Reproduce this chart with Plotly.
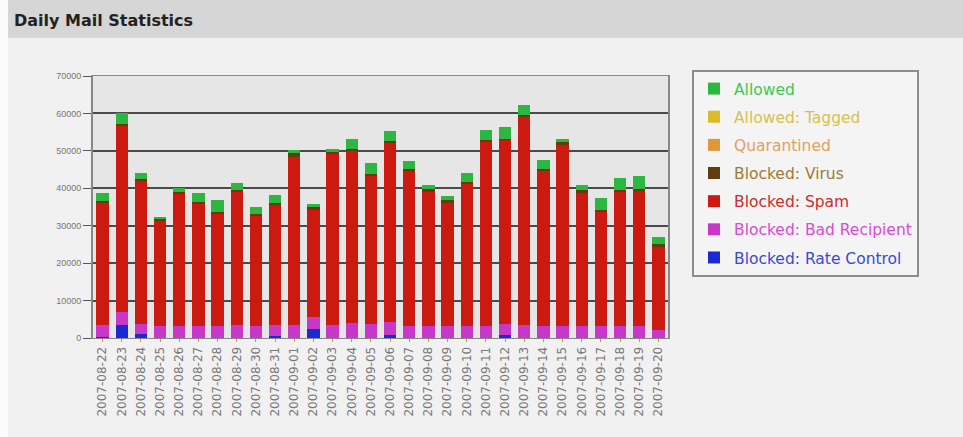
import plotly.graph_objects as go

dates = ["2007-08-22", "2007-08-23", "2007-08-24", "2007-08-25", "2007-08-26",
         "2007-08-27", "2007-08-28", "2007-08-29", "2007-08-30", "2007-08-31",
         "2007-09-01", "2007-09-02", "2007-09-03", "2007-09-04", "2007-09-05",
         "2007-09-06", "2007-09-07", "2007-09-08", "2007-09-09", "2007-09-10",
         "2007-09-11", "2007-09-12", "2007-09-13", "2007-09-14", "2007-09-15",
         "2007-09-16", "2007-09-17", "2007-09-18", "2007-09-19", "2007-09-20"]

rate_control = [200, 3500, 1200, 100, 100, 100, 100, 100, 100, 600,
                100, 2500, 100, 100, 100, 800, 100, 100, 100, 100,
                100, 700, 100, 100, 100, 100, 100, 100, 100, 100]
bad_recipient = [3200, 3500, 2500, 3000, 3000, 3000, 3000, 3500, 3200, 3000,
                 3500, 3000, 3500, 3800, 3600, 3500, 3000, 3000, 3000, 3200,
                 3000, 3000, 3500, 3200, 3000, 3000, 3000, 3000, 3000, 2000]
spam = [32800, 49900, 38300, 28200, 35400, 32900, 30200, 35500, 29300, 32200,
        44800, 28700, 45700, 46100, 39800, 47900, 41600, 36000, 33100, 38000,
        49400, 49200, 55500, 41400, 48500, 35700, 30600, 36000, 36400, 22300]
virus = [400, 400, 400, 500, 400, 400, 400, 400, 400, 400,
         1000, 900, 400, 400, 400, 400, 400, 700, 700, 400,
         400, 400, 400, 400, 900, 700, 400, 400, 400, 800]
quarantined = [0, 0, 0, 0, 0, 0, 0, 0, 0, 0,
               0, 0, 0, 0, 0, 0, 0, 0, 0, 0,
               0, 0, 0, 0, 0, 0, 0, 0, 0, 0]
allowed_tagged = [0, 0, 0, 0, 0, 0, 0, 0, 0, 0,
                  0, 0, 0, 0, 0, 0, 0, 0, 0, 0,
                  0, 0, 0, 0, 0, 0, 0, 0, 0, 0]
allowed = [2100, 2700, 1800, 400, 1100, 2300, 3200, 2000, 2100, 2000,
           800, 700, 800, 2900, 2800, 2800, 2300, 1100, 1000, 2300,
           2700, 3000, 2700, 2500, 800, 1400, 3200, 3200, 3400, 1900]

y_ticks = [0, 10000, 20000, 30000, 40000, 50000, 60000, 70000]

# (name, values, bar colour, legend text colour, legend rank)
series = [
    ("Blocked: Rate Control", rate_control, "#1a2ad0", "#3a48d8", 7),
    ("Blocked: Bad Recipient", bad_recipient, "#c838c8", "#d84ad8", 6),
    ("Blocked: Spam", spam, "#cc1a10", "#d02a2a", 5),
    ("Blocked: Virus", virus, "#5e3e10", "#a07a36", 4),
    ("Quarantined", quarantined, "#e0963a", "#e0a060", 3),
    ("Allowed: Tagged", allowed_tagged, "#d8bc2a", "#d8c050", 2),
    ("Allowed", allowed, "#2cb840", "#3cc850", 1),
]

fig = go.Figure()
for i, (name, vals, col, tcol, rank) in enumerate(series):
    fig.add_trace(go.Bar(
        x=dates, y=vals,
        name=f"<span style='color:{tcol}'>{name}</span>",
        marker=dict(color=col, line=dict(width=0)),
        legendgroup=f"g{i}",
        legendrank=rank,
    ))

# plot geometry (px): left 93, right 668, top 76, bottom 338
L, R, T, B = 93, 668, 76, 338
W, H = 963, 437
pw = R - L
ph = B - T


def px(p):
    return (p - L) / pw


def py(p):
    return (B - p) / ph


fig.update_layout(
    width=W, height=H,
    barmode="stack",
    bargap=0.36,
    margin=dict(l=L, r=W - R, t=T, b=H - B, pad=0),
    paper_bgcolor="#f1f1f1",
    plot_bgcolor="#e6e6e6",
    font=dict(family="DejaVu Sans", color="#666666"),
    showlegend=True,
    legend=dict(
        x=px(692), y=py(70), xanchor="left", yanchor="top",
        traceorder="grouped",
        tracegroupgap=5,
        bgcolor="#f4f4f4",
        bordercolor="#8c8c8c",
        borderwidth=2,
        font=dict(family="DejaVu Sans", size=15.5),
        itemwidth=30,
    ),
    xaxis=dict(
        type="category",
        tickangle=-90,
        tickfont=dict(family="DejaVu Sans", size=12, color="#777777"),
        showgrid=False,
        showline=True, linecolor="#888888", linewidth=1,
        mirror=True,
        ticks="outside", ticklen=3, tickcolor="#cc9933",
    ),
    yaxis=dict(
        range=[0, 70000],
        tickvals=y_ticks,
        ticktext=[str(v) for v in y_ticks],
        tickfont=dict(family="Liberation Sans", size=9, color="#777777"),
        showgrid=True, gridcolor="#4a4a4a", gridwidth=1.5,
        showline=True, linecolor="#888888", linewidth=2,
        mirror=True,
        ticks="outside", ticklen=8, tickcolor="#555555",
        zeroline=False,
    ),
    shapes=[
        dict(type="rect", xref="paper", yref="paper",
             x0=px(8), x1=px(963), y0=py(38), y1=py(0),
             fillcolor="#d6d6d6", line=dict(width=0), layer="below"),
        dict(type="rect", xref="paper", yref="paper",
             x0=px(0), x1=px(8), y0=py(437), y1=py(0),
             fillcolor="#fbfbfb", line=dict(width=0), layer="below"),
    ],
    annotations=[
        dict(text="<b>Daily Mail Statistics</b>", xref="paper", yref="paper",
             x=px(12), y=py(20), xanchor="left", yanchor="middle",
             showarrow=False,
             font=dict(family="DejaVu Sans", size=16, color="#222222")),
    ],
)

fig.write_html("out.html", config={"displayModeBar": False},
               post_script="document.body.style.margin='0';")
